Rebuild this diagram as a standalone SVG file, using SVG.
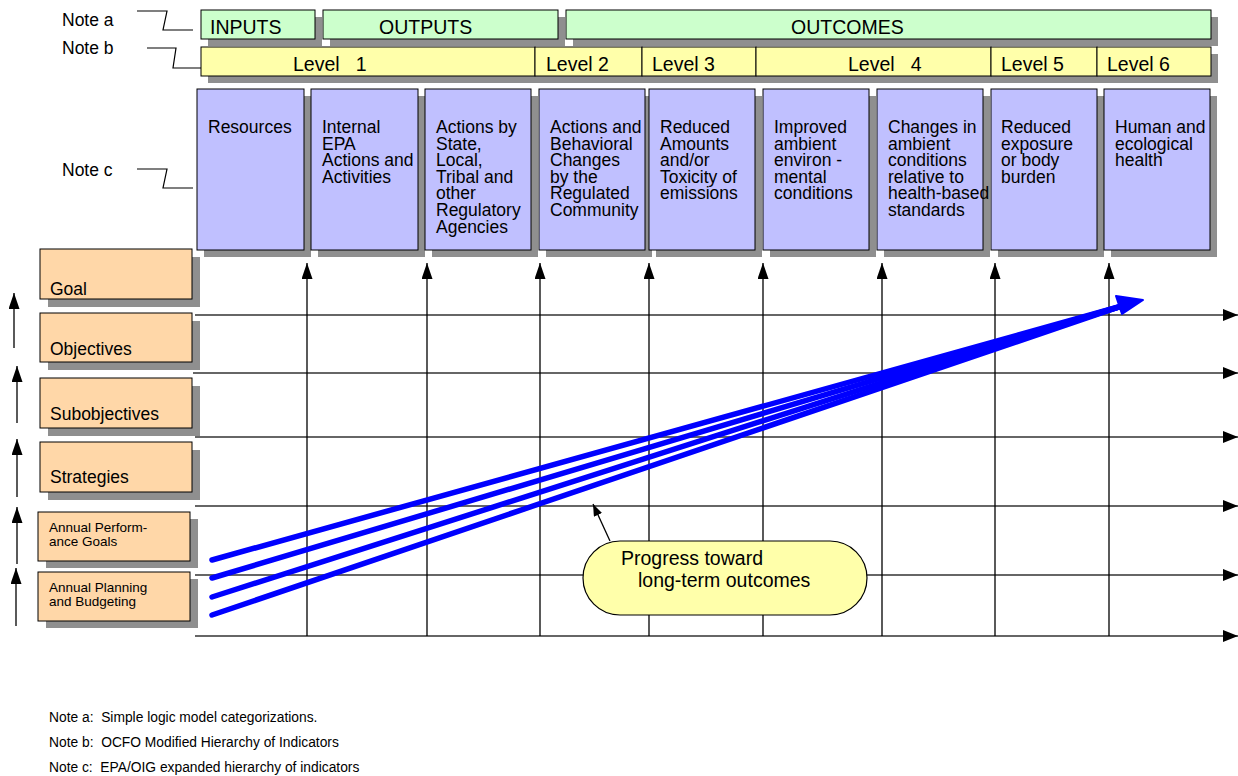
<svg xmlns="http://www.w3.org/2000/svg" width="1238" height="776" viewBox="0 0 1238 776">
<style>
text{font-family:"Liberation Sans",Arial,sans-serif;fill:#000;white-space:pre}
.hdr{font-size:19.5px}
.col{font-size:17.5px}
.lbl{font-size:17.5px}
.sm{font-size:13.5px}
.note{font-size:17.5px}
.fn{font-size:13.8px}
.sh{fill:#8f8f8f}
.g{fill:#CCFFCC;stroke:#000;stroke-width:1}
.y{fill:#FFFFAA;stroke:#000;stroke-width:1}
.b{fill:#C0C0FF;stroke:#000;stroke-width:1}
.o{fill:#FFD7A8;stroke:#000;stroke-width:1}
.lead{fill:none;stroke:#000;stroke-width:1.2}
.grid{stroke:#333;stroke-width:1.4;fill:none}
.vert{stroke:#000;stroke-width:1.3;fill:none}
.blue{stroke:#0000FF;stroke-width:5.5;fill:none;stroke-linecap:round}
</style>
<defs>
<marker id="ahH" markerUnits="userSpaceOnUse" markerWidth="16" markerHeight="12" refX="15" refY="6" orient="auto">
<path d="M0,0 L15,6 L0,12 z" fill="#000"/>
</marker>
<marker id="ahV" markerUnits="userSpaceOnUse" markerWidth="17" markerHeight="11" refX="16" refY="5.5" orient="auto">
<path d="M0,0 L16,5.5 L0,11 z" fill="#000"/>
</marker>
<marker id="ahS" markerUnits="userSpaceOnUse" markerWidth="13" markerHeight="9" refX="12" refY="4.5" orient="auto">
<path d="M0,0 L12,4.5 L0,9 z" fill="#000"/>
</marker>
</defs>

<g id="notes">
<text class="note" x="62" y="26">Note a</text>
<path class="lead" d="M137,11 H167 L163,30 H193"/>
<text class="note" x="62" y="54">Note b</text>
<path class="lead" d="M147,48 H176 L173,68 H202"/>
<text class="note" x="62" y="176">Note c</text>
<path class="lead" d="M137,169 H167 L163,188 H193"/>
</g>

<g id="logic-row">
<rect class="sh" x="208" y="17" width="114" height="29"/>
<rect class="sh" x="330" y="17" width="235" height="29"/>
<rect class="sh" x="573" y="17" width="645" height="29"/>
<g id="inputs"><rect class="g" x="201" y="10" width="114" height="29"/><text class="hdr" x="210" y="34">INPUTS</text></g>
<g id="outputs"><rect class="g" x="323" y="10" width="235" height="29"/><text class="hdr" x="379" y="34">OUTPUTS</text></g>
<g id="outcomes"><rect class="g" x="566" y="10" width="645" height="29"/><text class="hdr" x="791" y="34">OUTCOMES</text></g>
</g>

<g id="level-row">
<rect class="sh" x="208" y="54" width="1010" height="29"/>
<g id="level1"><rect class="y" x="201" y="47" width="334" height="29"/><text class="hdr" x="293" y="71">Level   1</text></g>
<g id="level2"><rect class="y" x="535" y="47" width="107" height="29"/><text class="hdr" x="546" y="71">Level 2</text></g>
<g id="level3"><rect class="y" x="642" y="47" width="114" height="29"/><text class="hdr" x="652" y="71">Level 3</text></g>
<g id="level4"><rect class="y" x="756" y="47" width="235" height="29"/><text class="hdr" x="848" y="71">Level   4</text></g>
<g id="level5"><rect class="y" x="991" y="47" width="106" height="29"/><text class="hdr" x="1001" y="71">Level 5</text></g>
<g id="level6"><rect class="y" x="1097" y="47" width="114" height="29"/><text class="hdr" x="1107" y="71">Level 6</text></g>
</g>

<g id="columns">
<g id="c-resources"><rect class="sh" x="204" y="96" width="107" height="161"/><rect class="b" x="197" y="89" width="107" height="161"/>
<text class="col" x="208" y="133">Resources</text></g>
<g id="c-internal"><rect class="sh" x="318" y="96" width="107" height="161"/><rect class="b" x="311" y="89" width="107" height="161"/>
<text class="col" x="322" y="133">Internal<tspan x="322" dy="16.6">EPA</tspan><tspan x="322" dy="16.6">Actions and</tspan><tspan x="322" dy="16.6">Activities</tspan></text></g>
<g id="c-state"><rect class="sh" x="432" y="96" width="106" height="161"/><rect class="b" x="425" y="89" width="106" height="161"/>
<text class="col" x="436" y="133">Actions by<tspan x="436" dy="16.6">State,</tspan><tspan x="436" dy="16.6">Local,</tspan><tspan x="436" dy="16.6">Tribal and</tspan><tspan x="436" dy="16.6">other</tspan><tspan x="436" dy="16.6">Regulatory</tspan><tspan x="436" dy="16.6">Agencies</tspan></text></g>
<g id="c-regulated"><rect class="sh" x="546" y="96" width="106" height="161"/><rect class="b" x="539" y="89" width="106" height="161"/>
<text class="col" x="550" y="133">Actions and<tspan x="550" dy="16.6">Behavioral</tspan><tspan x="550" dy="16.6">Changes</tspan><tspan x="550" dy="16.6">by the</tspan><tspan x="550" dy="16.6">Regulated</tspan><tspan x="550" dy="16.6">Community</tspan></text></g>
<g id="c-emissions"><rect class="sh" x="656" y="96" width="106" height="161"/><rect class="b" x="649" y="89" width="106" height="161"/>
<text class="col" x="660" y="133">Reduced<tspan x="660" dy="16.6">Amounts</tspan><tspan x="660" dy="16.6">and/or</tspan><tspan x="660" dy="16.6">Toxicity of</tspan><tspan x="660" dy="16.6">emissions</tspan></text></g>
<g id="c-ambient"><rect class="sh" x="770" y="96" width="106" height="161"/><rect class="b" x="763" y="89" width="106" height="161"/>
<text class="col" x="774" y="133">Improved<tspan x="774" dy="16.6">ambient</tspan><tspan x="774" dy="16.6">environ -</tspan><tspan x="774" dy="16.6">mental</tspan><tspan x="774" dy="16.6">conditions</tspan></text></g>
<g id="c-health-std"><rect class="sh" x="884" y="96" width="106" height="161"/><rect class="b" x="877" y="89" width="106" height="161"/>
<text class="col" x="888" y="133">Changes in<tspan x="888" dy="16.6">ambient</tspan><tspan x="888" dy="16.6">conditions</tspan><tspan x="888" dy="16.6">relative to</tspan><tspan x="888" dy="16.6">health-based</tspan><tspan x="888" dy="16.6">standards</tspan></text></g>
<g id="c-exposure"><rect class="sh" x="998" y="96" width="106" height="161"/><rect class="b" x="991" y="89" width="106" height="161"/>
<text class="col" x="1001" y="133">Reduced<tspan x="1001" dy="16.6">exposure</tspan><tspan x="1001" dy="16.6">or body</tspan><tspan x="1001" dy="16.6">burden</tspan></text></g>
<g id="c-human"><rect class="sh" x="1111" y="96" width="106" height="161"/><rect class="b" x="1104" y="89" width="106" height="161"/>
<text class="col" x="1115" y="133">Human and<tspan x="1115" dy="16.6">ecological</tspan><tspan x="1115" dy="16.6">health</tspan></text></g>
</g>

<g id="rows">
<g id="r-goal"><rect class="sh" x="48" y="257" width="152" height="50"/><rect class="o" x="40" y="249" width="152" height="50"/><text class="lbl" x="50" y="295">Goal</text></g>
<g id="r-objectives"><rect class="sh" x="48" y="321" width="152" height="49"/><rect class="o" x="40" y="313" width="152" height="49"/><text class="lbl" x="50" y="355">Objectives</text></g>
<g id="r-subobjectives"><rect class="sh" x="48" y="386" width="152" height="50"/><rect class="o" x="40" y="378" width="152" height="50"/><text class="lbl" x="50" y="420">Subobjectives</text></g>
<g id="r-strategies"><rect class="sh" x="48" y="450" width="152" height="50"/><rect class="o" x="40" y="442" width="152" height="50"/><text class="lbl" x="50" y="483">Strategies</text></g>
<g id="r-apg"><rect class="sh" x="46" y="519" width="152" height="49"/><rect class="o" x="38" y="512" width="152" height="49"/><text class="sm" x="49" y="532">Annual Perform-<tspan x="49" dy="13.5">ance Goals</tspan></text></g>
<g id="r-apb"><rect class="sh" x="46" y="579" width="152" height="49"/><rect class="o" x="38" y="572" width="152" height="49"/><text class="sm" x="49" y="592">Annual Planning<tspan x="49" dy="14">and Budgeting</tspan></text></g>
</g>

<g id="connectors">
<g id="left-arrows">
<line class="vert" x1="14" y1="348" x2="14" y2="293" marker-end="url(#ahV)"/>
<line class="vert" x1="17" y1="423" x2="17" y2="366" marker-end="url(#ahV)"/>
<line class="vert" x1="17" y1="497" x2="17" y2="439" marker-end="url(#ahV)"/>
<line class="vert" x1="17" y1="564" x2="17" y2="507" marker-end="url(#ahV)"/>
<line class="vert" x1="16" y1="626" x2="16" y2="568" marker-end="url(#ahV)"/>
</g>
<g id="h-grid">
<line class="grid" x1="195" y1="315" x2="1238" y2="315" marker-end="url(#ahH)"/>
<line class="grid" x1="193" y1="373" x2="1238" y2="373" marker-end="url(#ahH)"/>
<line class="grid" x1="195" y1="437" x2="1238" y2="437" marker-end="url(#ahH)"/>
<line class="grid" x1="195" y1="506" x2="1238" y2="506" marker-end="url(#ahH)"/>
<line class="grid" x1="195" y1="575" x2="1238" y2="575" marker-end="url(#ahH)"/>
<line class="grid" x1="195" y1="636" x2="1238" y2="636" marker-end="url(#ahH)"/>
</g>
<g id="v-grid">
<line class="vert" x1="307" y1="636" x2="307" y2="263" marker-end="url(#ahV)"/>
<line class="vert" x1="427" y1="636" x2="427" y2="263" marker-end="url(#ahV)"/>
<line class="vert" x1="540" y1="636" x2="540" y2="263" marker-end="url(#ahV)"/>
<line class="vert" x1="649" y1="636" x2="649" y2="263" marker-end="url(#ahV)"/>
<line class="vert" x1="763" y1="636" x2="763" y2="263" marker-end="url(#ahV)"/>
<line class="vert" x1="882" y1="636" x2="882" y2="263" marker-end="url(#ahV)"/>
<line class="vert" x1="995" y1="636" x2="995" y2="263" marker-end="url(#ahV)"/>
<line class="vert" x1="1109" y1="636" x2="1109" y2="263" marker-end="url(#ahV)"/>
</g>
<g id="progress-lines">
<line class="blue" x1="212" y1="560" x2="1122" y2="306"/>
<line class="blue" x1="212" y1="578" x2="1122" y2="306"/>
<line class="blue" x1="212" y1="597" x2="1122" y2="306"/>
<line class="blue" x1="212" y1="615" x2="1122" y2="306"/>
<polygon points="1143,300 1116,296 1122,314" fill="#0000FF" stroke="#0000FF" stroke-width="2" stroke-linejoin="round"/>
</g>
<line id="callout-pointer" class="vert" x1="610" y1="541" x2="593" y2="504" marker-end="url(#ahS)"/>
</g>

<g id="callout">
<rect x="583" y="541" width="284" height="74" rx="37" ry="37" fill="#FFFFAA" stroke="#000" stroke-width="1.2"/>
<text class="hdr" x="621" y="565">Progress toward</text>
<text class="hdr" x="638" y="587">long-term outcomes</text>
</g>

<g id="footnotes">
<text class="fn" x="49" y="722">Note a:  Simple logic model categorizations.</text>
<text class="fn" x="49" y="747">Note b:  OCFO Modified Hierarchy of Indicators</text>
<text class="fn" x="49" y="772">Note c:  EPA/OIG expanded hierarchy of indicators</text>
</g>
</svg>
